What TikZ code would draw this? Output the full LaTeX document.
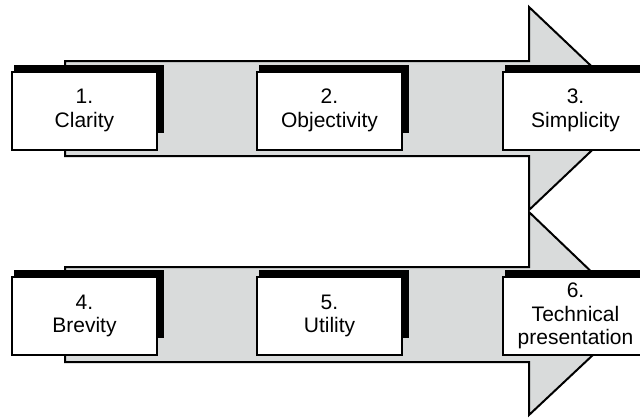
\documentclass[tikz,border=0pt]{standalone}
\usepackage{fontspec}
\setmainfont{Liberation Sans}
\usetikzlibrary{backgrounds}
\definecolor{shaftgray}{RGB}{217,219,219}
\tikzset{
  stepbox/.style={draw=black, line width=2bp, fill=white, inner sep=0pt,
    minimum width=145bp, minimum height=78bp, align=center,
    font=\fontsize{21bp}{23.5bp}\selectfont},
  flowarrow/.style={draw=black, line width=2bp, fill=shaftgray, line join=miter},
  boxshadow/.style={fill=black}
}
\begin{document}
\begin{tikzpicture}[x=1bp, y=-1bp]
  \path[use as bounding box, clip] (0,0) rectangle (640,417);

  % step boxes, row one
  \node[stepbox] (b1) at (84.5,110.5) {1.\\Clarity};
  \node[stepbox] (b2) at (329.5,110.5) {2.\\Objectivity};
  \node[stepbox] (b3) at (575.5,110.5) {3.\\Simplicity};
  % step boxes, row two
  \node[stepbox] (b4) at (84.5,316) {4.\\Brevity};
  \node[stepbox] (b5) at (329.5,316) {5.\\Utility};
  \node[stepbox] (b6) at (575.5,316) {6.\\Technical\\presentation};

  \begin{pgfonlayer}{background}
    \clip (0,0) rectangle (640,417);
    % the two broad arrows behind the boxes
    \draw[flowarrow] (65,61) -- (529,61) -- (529,7) -- (636,108.5)
      -- (529,210) -- (529,156) -- (65,156) -- cycle;
    \draw[flowarrow] (65,267) -- (529,267) -- (529,212) -- (636,314.5)
      -- (529,415) -- (529,362) -- (65,362) -- cycle;
    % offset black shadows on the upper right of each box
    \foreach \b in {b1,b2,b3,b4,b5,b6}{
      \fill[boxshadow] ([shift={(3,-6)}]\b.north west)
        rectangle ([shift={(6,-18)}]\b.south east);
    }
  \end{pgfonlayer}
\end{tikzpicture}
\end{document}
